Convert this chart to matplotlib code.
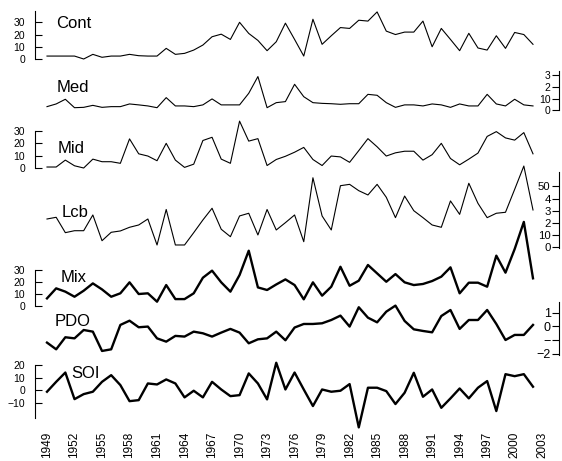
import numpy as np
import matplotlib
matplotlib.use("Agg")
import matplotlib.pyplot as plt

plt.rcParams['font.family'] = ['Liberation Sans', 'DejaVu Sans']

# ---------------- data ----------------
years = np.arange(1949, 2003)
year_ticks = np.arange(1949, 2004, 3)

cont = [2.4, 2.4, 2.4, 2.4, 0, 3.8, 1.4, 2.4, 2.4, 3.8, 2.7, 2.4, 2.4, 8.7, 3.8, 4.6, 7.3, 11.4,
        18.2, 20.3, 16, 30, 20.9, 15.2, 6.8, 14.1, 29.3, 16, 2.4, 32.5, 12, 19, 25.7, 25,
        31.7, 31, 38.5, 22.8, 20, 22, 22, 31, 10, 25, 16, 6.8, 21, 9, 7.3, 19, 8.7, 21.7, 20, 12]
med = [3.3, 5.6, 9.6, 2.4, 2.7, 4.4, 2.7, 3.3, 3.3, 5.6, 4.8, 3.9, 2.4, 11, 3.9, 3.9, 3.3, 4.8,
       9.9, 4.8, 4.8, 4.8, 14.7, 29, 2.4, 6.7, 7.6, 22.4, 11.8, 6.7, 6.1, 5.8, 5.3, 5.8,
       5.8, 13.8, 13, 6.7, 2.7, 4.8, 4.8, 3.9, 5.6, 4.8, 2.7, 5.6, 3.9, 3.9, 13.8, 5.6, 3.9, 9.6, 4.8, 3.9]
mid = [0.8, 0.8, 6.4, 1.8, 0, 7.2, 5.1, 5.1, 3.8, 23.6, 11.5, 9.7, 5.9, 20, 6.4, 0.5, 3.1, 22.3,
       24.9, 7.2, 3.8, 38, 21.8, 23.8, 2, 6.9, 9.5, 12.8, 16.7, 6.9, 2, 9.7, 9, 4.6,
       14.1, 23.8, 17.2, 9.7, 12.3, 13.6, 13.6, 6.4, 10.8, 20, 7.7, 2.6, 7.2, 12.1, 25.6, 29.5, 24.4, 22.6, 28.7, 11.5]
lcb = [23.2, 24.6, 12, 13.6, 13.6, 26.5, 5.4, 12.3, 13.4, 16.4, 18.3, 23.2, 1.9, 31, 1.9, 1.9, 12, 22.4,
       32, 14.8, 8.7, 25.7, 27.9, 10.1, 31, 14.2, 20.2, 26.5, 4.6, 57, 25.7, 14.2, 50.5, 51.6,
       46.4, 42.9, 51.6, 41, 24.3, 42, 30, 24.3, 18.3, 16.4, 38, 27, 52.5, 36, 24.3, 27.9, 28.7, 47.5, 66.6, 30.6]
mix = [6.2, 14.7, 11.9, 7.6, 12.7, 18.9, 13.8, 7.6, 10.5, 19.8, 9.9, 10.5, 3.4, 17.5, 5.6, 5.6, 10.5, 23.7,
       29.7, 19.8, 11.9, 26, 46.6, 15.5, 13.3, 18, 22.3, 17.5, 5.4, 19.8, 8.5, 16.1, 33, 16.9,
       21.2, 34.5, 27.4, 20.3, 26.8, 19.8, 17.5, 18.4, 20.9, 24.6, 32.5, 10.5, 19.5, 19.5, 16.1, 42.4, 28, 48, 71, 23.2]
pdo = [-1.19, -1.68, -0.8, -0.88, -0.27, -0.39, -1.8, -1.68, 0.1, 0.41, -0.07, -0.02, -0.88, -1.12, -0.7, -0.75, -0.39, -0.51,
       -0.75, -0.46, -0.19, -0.46, -1.24, -0.95, -0.88, -0.39, -1.02, -0.09, 0.17, 0.17, 0.22, 0.46, 0.78, -0.02,
       1.39, 0.63, 0.29, 1.07, 1.51, 0.39, -0.22, -0.34, -0.44, 0.75, 1.19, -0.19, 0.46, 0.46, 1.19, 0.17, -1.0, -0.63, -0.63, 0.1]
soi = [-1.3, 6.6, 14, -7.2, -3.2, -1.3, 6.6, 11.9, 4, -8.8, -8, 5.3, 4.5, 8.5, 5.3, -5.8, -0.5, -5.8,
       6.6, 0.5, -4.8, -4, 13.3, 5.3, -7.4, 21.8, 0.5, 14, 0.5, -12.7, 0.5, -1.3, -0.5, 4.8,
       -29.7, 1.9, 1.9, -0.8, -11.1, -2.1, 13.8, -5.3, 0.5, -14.1, -6.6, 1.3, -6.6, 1.9, 7.2, -16.7, 12.7, 11.1, 12.7, 2.7]

names = ['Cont', 'Med', 'Mid', 'Lcb', 'Mix', 'PDO', 'SOI']
series = [cont, med, mid, lcb, mix, pdo, soi]
ticks = [[0, 10, 20, 30], [0, 10, 20, 30], [0, 10, 20, 30], [0, 10, 20, 30, 40, 50],
         [0, 10, 20, 30], [-2, -1, 0, 1], [-10, 0, 10, 20]]
tick_labels = [['0', '10', '20', '30'], ['0', '10', '2', '3'], ['0', '10', '20', '30'],
               ['0', '10', '2', '3', '4', '50'], ['0', '10', '20', '30'],
               ['\u22122', '\u2212', '0', '1'], ['\u221210', '0', '10', '20']]

# ---------------- layout (pixels) ----------------
W, H = 562, 461
sides = ['left', 'right', 'left', 'right', 'left', 'right', 'left']
spine_px = [(11, 59), (71, 110.5), (131, 168), (172, 248), (270, 306), (302, 355), (365, 418)]
zero_px = [59, 110.5, 168, 247.3, 305.7, 326.3, 390]
unit_px = [1.223, 1.17, 1.28, 1.22, 1.18, 13.7, 1.26]
widths = [0.8, 0.8, 0.8, 0.8, 1.7, 1.7, 1.7]
label_xy = [(56, 24), (57, 87), (58, 148), (62, 212.5), (61, 277), (55, 321), (71, 373)]
tick_size = [7.5, 7.5, 7.5, 8.2, 7.5, 9, 7.5]

x_left, x_right = 35, 559
px_year = (533 - 47) / 53.0
xlim = (1949 - (47 - x_left) / px_year, 2002 + (x_right - 533) / px_year)

fig = plt.figure(figsize=(W / 100, H / 100), dpi=100)

for i in range(len(names)):
    top, bot = spine_px[i]
    ax = fig.add_axes([x_left / W, 1 - bot / H, (x_right - x_left) / W, (bot - top) / H])
    ax.patch.set_visible(False)
    ax.plot(years, series[i], color='black', lw=widths[i], clip_on=False)
    ax.set_xlim(*xlim)
    ax.set_ylim((zero_px[i] - bot) / unit_px[i], (zero_px[i] - top) / unit_px[i])
    for s in ['top', 'bottom', 'left', 'right']:
        ax.spines[s].set_visible(s == sides[i])
    ax.spines[sides[i]].set_linewidth(0.8)
    ax.set_yticks(ticks[i])
    ax.set_yticklabels(tick_labels[i])
    if sides[i] == 'left':
        ax.tick_params(axis='y', direction='in', length=5, width=0.8, pad=7,
                       labelsize=tick_size[i])
    else:
        ax.yaxis.tick_right()
        ax.tick_params(axis='y', direction='in', length=5, width=0.8, pad=-6,
                       labelsize=tick_size[i])
        for lab in ax.get_yticklabels():
            lab.set_horizontalalignment('right')
    if i == len(names) - 1:
        ax.set_xticks(year_ticks)
        ax.set_xticklabels([str(y) for y in year_ticks], rotation=90)
        ax.tick_params(axis='x', length=0, pad=10, labelsize=8.5)
    else:
        ax.set_xticks([])
    fig.text(label_xy[i][0] / W, 1 - label_xy[i][1] / H, names[i],
             fontsize=12, ha='left', va='center')

fig.savefig('out.png', dpi=100)
